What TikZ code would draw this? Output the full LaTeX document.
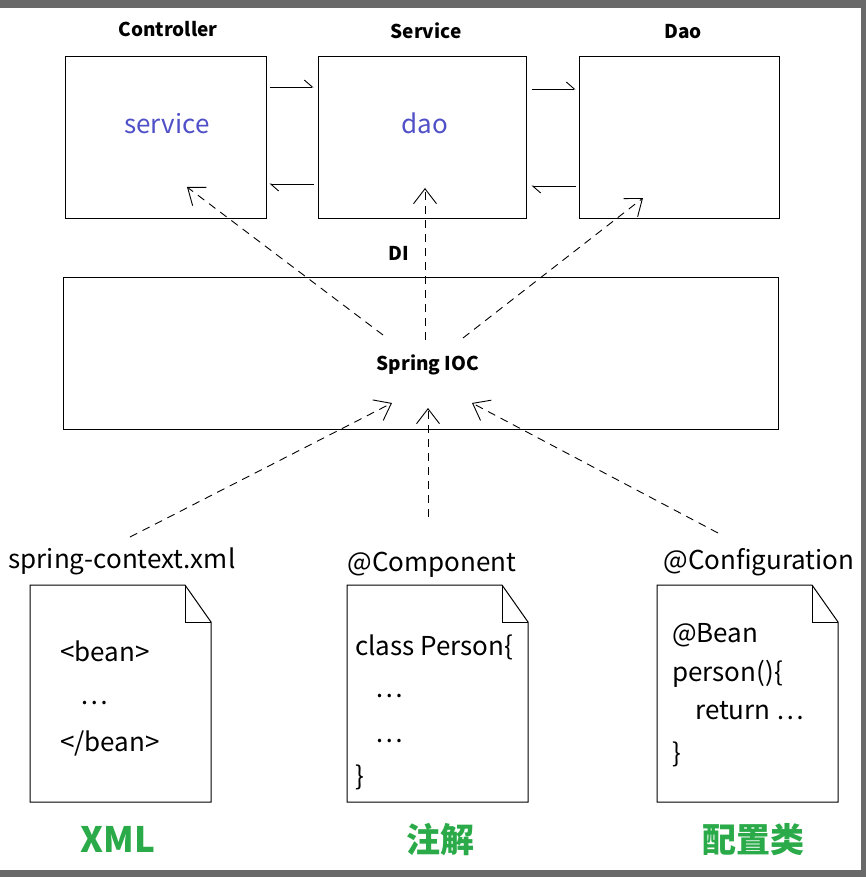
\documentclass[tikz,border=0pt]{standalone}
\usepackage{fontspec}
\setmainfont{Noto Sans CJK SC}
\usepackage{xcolor}
\definecolor{ioc-blue}{RGB}{80,80,200}
\definecolor{ioc-green}{RGB}{42,170,72}
\definecolor{ioc-gray}{RGB}{105,105,105}
\usepackage{tikz}
\usetikzlibrary{arrows.meta,positioning}

\begin{document}
\begin{tikzpicture}[x=1pt,y=-1pt,
    box/.style={draw,line width=1pt,rectangle,inner sep=0pt},
    harp/.style={line width=0.9pt,-{Straight Barb[harpoon,length=8pt,width=14pt]}},
    inj/.style={line width=0.9pt,dash pattern=on 8pt off 6pt,-{Straight Barb[length=15pt,width=23pt]}},
    layer/.style={font=\bfseries\fontsize{19}{22}\selectfont,anchor=base},
    code/.style={font=\fontsize{26}{30}\selectfont,anchor=base west,inner sep=0pt}]
    \useasboundingbox (0,0) rectangle (866,877);
    \fill[white] (0,0) rectangle (866,877);
    % screen edges
    \fill[ioc-gray] (0,0) rectangle (866,8);
    \fill[ioc-gray] (0,870) rectangle (866,877);
    \fill[ioc-gray] (861,0) rectangle (866,877);

    % layers
    \node[box,minimum width=201pt,minimum height=162pt] (ctrl) at (165.5,138) {};
    \node[box,minimum width=208pt,minimum height=162pt] (svc) at (422,138) {};
    \node[box,minimum width=200pt,minimum height=162pt] (dao) at (679,138) {};
    \node[layer] (ctrlT) at (168,37) {Controller};
    \node[layer] (svcT) at (426,39) {Service};
    \node[layer] (daoT) at (683,39) {Dao};
    \node[font=\fontsize{26}{30}\selectfont,text=ioc-blue,anchor=base] (svcF) at (167,134) {service};
    \node[font=\fontsize{26}{30}\selectfont,text=ioc-blue,anchor=base] (daoF) at (425,134) {dao};

    \draw[harp] ([xshift=3pt]ctrl.east |- 0,87) -- ([xshift=-4pt]svc.west |- 0,87);
    \draw[harp] ([xshift=-4pt]svc.west |- 0,184) -- ([xshift=3pt]ctrl.east |- 0,184);
    \draw[harp] ([xshift=5pt]svc.east |- 0,89) -- ([xshift=-3pt]dao.west |- 0,89);
    \draw[harp] ([xshift=-3pt]dao.west |- 0,186) -- ([xshift=5pt]svc.east |- 0,186);

    % container
    \node[box,minimum width=715pt,minimum height=152pt] (ioc) at (420.5,353) {};
    \node[layer] (iocT) at (428,370) {Spring IOC};
    \node[layer] (di) at (399,260) {DI};

    \coordinate (o1) at (383,335);
    \coordinate (o2) at (425,340);
    \coordinate (o3) at (463,338);
    \coordinate (t1) at (187,187);
    \coordinate (t2) at (425,188);
    \coordinate (t3) at (643,198);
    \draw[inj] (o1) -- (t1);
    \draw[inj] (o2) -- (t2);
    \draw[inj] (o3) -- (t3);

    % configuration sources
    \foreach \x in {30,347,657}{
        \draw[line width=1pt,fill=white] (\x,585) -- ++(155,0) -- ++(26,37) -- ++(0,180) -- ++(-181,0) -- cycle;
        \draw[line width=1pt] (\x+155,585) -- ++(0,37) -- ++(26,0);
    }
    \node[font=\fontsize{26}{30}\selectfont,anchor=base] (xmlT) at (122,568) {spring-context.xml};
    \node[font=\fontsize{26}{30}\selectfont,anchor=base] (annT) at (432,571) {@Component};
    \node[font=\fontsize{26}{30}\selectfont,anchor=base] (cfgT) at (759,569) {@Configuration};

    \coordinate (s1) at (130,537);
    \coordinate (s2) at (428,517);
    \coordinate (s3) at (718,533);
    \coordinate (e1) at (392,403);
    \coordinate (e2) at (428,408);
    \coordinate (e3) at (472,403);
    \draw[inj] (s1) -- (e1);
    \draw[inj] (s2) -- (e2);
    \draw[inj] (s3) -- (e3);

    \node[code] (x1) at (60,661) {<bean>};
    \node[code] (x2) at (80,704) {…};
    \node[code] (x3) at (60,751) {</bean>};

    \node[code] (a1) at (355,655) {class Person\{};
    \node[code] (a2) at (375,697) {…};
    \node[code] (a3) at (375,742) {…};
    \node[code] (a4) at (355,785) {\}};

    \node[code] (c1) at (672,642) {@Bean};
    \node[code] (c2) at (672,681) {person()\{};
    \node[code] (c3) at (695,719) {return …};
    \node[code] (c4) at (672,762) {\}};

    \node[font=\bfseries\fontsize{35}{40}\selectfont,text=ioc-green,anchor=base] (xmlL) at (118,852) {XML};
    \node[font=\bfseries\fontsize{34}{40}\selectfont,text=ioc-green,anchor=base] (annL) at (440,852) {注解};
    \node[font=\bfseries\fontsize{34}{40}\selectfont,text=ioc-green,anchor=base] (cfgL) at (753,852) {配置类};
\end{tikzpicture}
\end{document}
